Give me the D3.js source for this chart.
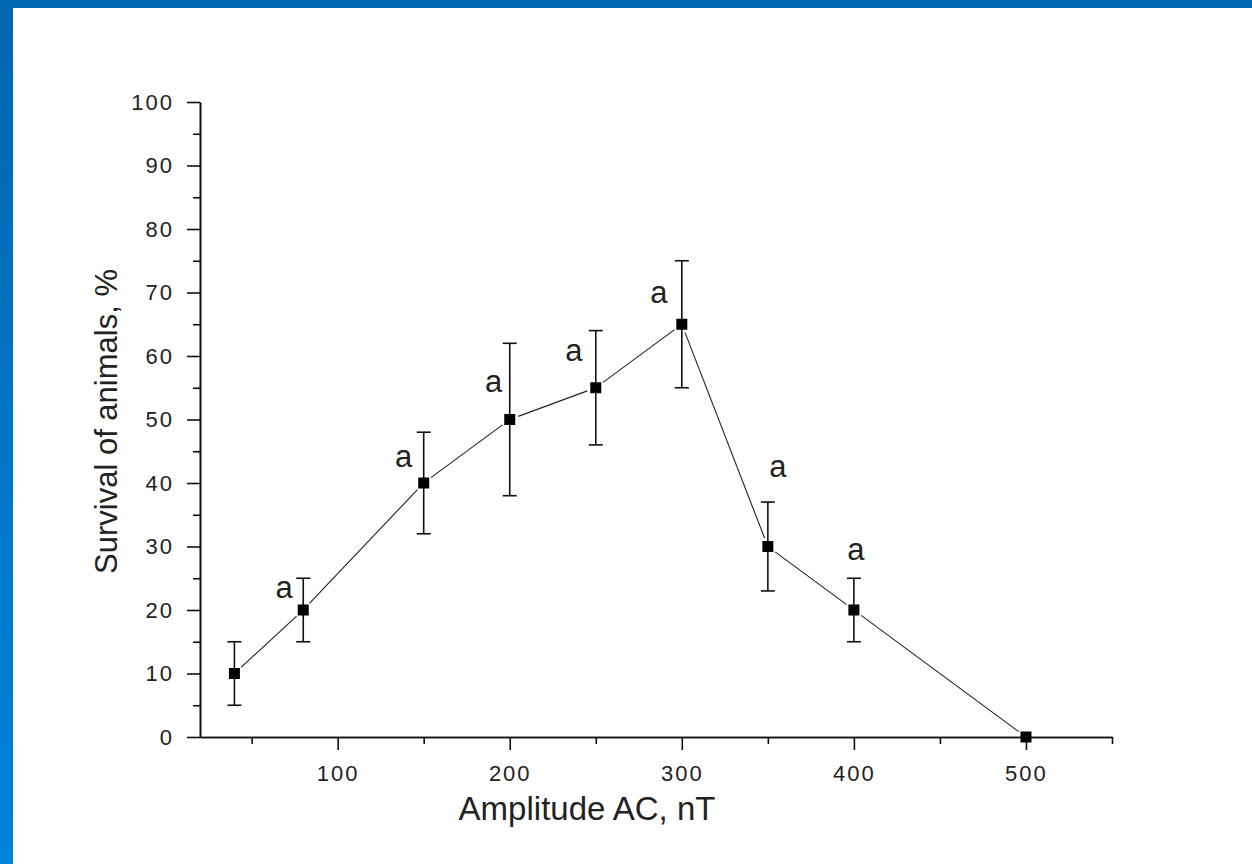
<!DOCTYPE html>
<html>
<head>
<meta charset="utf-8">
<script src="https://cdn.jsdelivr.net/npm/d3@7"></script>
<style>
  html, body { margin: 0; padding: 0; background: #ffffff; }
  svg { display: block; }
</style>
</head>
<body>
<svg id="chart" width="1252" height="864"></svg>
<script>
// Survival of animals versus amplitude of the alternating field
const amplitude = [40, 80, 150, 200, 250, 300, 350, 400, 500];   // nT
const survival  = [10, 20, 40, 50, 55, 65, 30, 20, 0];           // %
const errorHalf = [5, 5, 8, 12, 9, 10, 7, 5, 0];                 // ± %
const significance = ["", "a", "a", "a", "a", "a", "a", "a", ""];

const xMajorTicks = [100, 200, 300, 400, 500];
const xMinorTicks = [50, 150, 250, 350, 450, 550];
const yMajorTicks = [0, 10, 20, 30, 40, 50, 60, 70, 80, 90, 100];
const yMinorTicks = [5, 15, 25, 35, 45, 55, 65, 75, 85, 95];

const xTitle = "Amplitude AC, nT";
const yTitle = "Survival of animals, %";

const W = 1252, H = 864;
const svg = d3.select("#chart");

// ---- slide frame: blue bands on the top and left edges ----
const defs = svg.append("defs");
const grad = defs.append("linearGradient")
  .attr("id", "edgeGrad").attr("x1", 0).attr("y1", 0).attr("x2", 0).attr("y2", 1);
grad.append("stop").attr("offset", "0%").attr("stop-color", "#0066b0");
grad.append("stop").attr("offset", "100%").attr("stop-color", "#0083dc");
svg.append("rect").attr("x", 0).attr("y", 0).attr("width", W).attr("height", H).attr("fill", "#ffffff");
svg.append("rect").attr("x", 0).attr("y", 0).attr("width", 13).attr("height", H).attr("fill", "url(#edgeGrad)");
svg.append("rect").attr("x", 0).attr("y", 0).attr("width", W).attr("height", 8).attr("fill", "#0066b0");

// ---- scales ----
const plot = { left: 200, right: 1112, top: 102, bottom: 737 };
const x = d3.scaleLinear().domain([20, 550]).range([plot.left, plot.right]);
const y = d3.scaleLinear().domain([0, 100]).range([plot.bottom, plot.top]);

const sans = "'Liberation Sans', Arial, Helvetica, sans-serif";

// ---- axes ----
function styleAxis(g) {
  g.selectAll("path.domain").attr("stroke", "#111").attr("stroke-width", 1.6);
  g.selectAll(".tick line").attr("stroke", "#111").attr("stroke-width", 1.6);
}
function styleLabels(g) {
  g.selectAll(".tick text")
    .attr("font-family", sans).attr("font-size", 22).attr("fill", "#222")
    .attr("letter-spacing", 2);
}

const xAxisMinor = svg.append("g").attr("transform", `translate(0,${plot.bottom})`)
  .call(d3.axisBottom(x).tickValues(xMinorTicks).tickSize(7).tickSizeOuter(0).tickFormat(""));
styleAxis(xAxisMinor);

const xAxis = svg.append("g").attr("transform", `translate(0,${plot.bottom})`)
  .call(d3.axisBottom(x).tickValues(xMajorTicks).tickSize(13).tickSizeOuter(0).tickPadding(15)
    .tickFormat(d3.format("d")));
styleAxis(xAxis);
styleLabels(xAxis);

const yAxisMinor = svg.append("g").attr("transform", `translate(${plot.left},0)`)
  .call(d3.axisLeft(y).tickValues(yMinorTicks).tickSize(7).tickSizeOuter(0).tickFormat(""));
styleAxis(yAxisMinor);

const yAxis = svg.append("g").attr("transform", `translate(${plot.left},0)`)
  .call(d3.axisLeft(y).tickValues(yMajorTicks).tickSize(13).tickSizeOuter(0).tickPadding(13)
    .tickFormat(d3.format("d")));
styleAxis(yAxis);
styleLabels(yAxis);

// ---- axis titles ----
svg.append("text")
  .attr("x", 587).attr("y", 820)
  .attr("text-anchor", "middle")
  .attr("font-family", sans).attr("font-size", 33).attr("fill", "#222")
  .text(xTitle);

svg.append("text")
  .attr("transform", `translate(117,${(plot.top + plot.bottom) / 2 + 2}) rotate(-90)`)
  .attr("text-anchor", "middle")
  .attr("font-family", sans).attr("font-size", 31).attr("fill", "#222")
  .text(yTitle);

// ---- data ----
const pts = amplitude.map((a, i) => ({
  a, v: survival[i], e: errorHalf[i], sig: significance[i], i,
  px: x(a), py: y(survival[i])
}));

// connecting line, drawn as segments that stop short of each marker
const gap = 9;
const segs = d3.pairs(pts).map(([p, q]) => {
  const dx = q.px - p.px, dy = q.py - p.py;
  const len = Math.hypot(dx, dy);
  const ux = dx / len, uy = dy / len;
  return { x1: p.px + ux * gap, y1: p.py + uy * gap, x2: q.px - ux * gap, y2: q.py - uy * gap };
});
svg.append("g").selectAll("line").data(segs).join("line")
  .attr("x1", d => d.x1).attr("y1", d => d.y1)
  .attr("x2", d => d.x2).attr("y2", d => d.y2)
  .attr("stroke", "#222").attr("stroke-width", 1.1);

// error bars
const capHalf = 7;
const eb = svg.append("g").attr("stroke", "#111").attr("stroke-width", 1.6);
const withErr = pts.filter(p => p.e > 0);
eb.selectAll("line.stem").data(withErr).join("line").attr("class", "stem")
  .attr("x1", d => d.px).attr("x2", d => d.px)
  .attr("y1", d => y(d.v - d.e)).attr("y2", d => y(d.v + d.e));
eb.selectAll("line.capTop").data(withErr).join("line").attr("class", "capTop")
  .attr("x1", d => d.px - capHalf).attr("x2", d => d.px + capHalf)
  .attr("y1", d => y(d.v + d.e)).attr("y2", d => y(d.v + d.e));
eb.selectAll("line.capBot").data(withErr).join("line").attr("class", "capBot")
  .attr("x1", d => d.px - capHalf).attr("x2", d => d.px + capHalf)
  .attr("y1", d => y(d.v - d.e)).attr("y2", d => y(d.v - d.e));

// square markers
const ms = 11;
svg.append("g").selectAll("rect").data(pts).join("rect")
  .attr("x", d => d.px - ms / 2).attr("y", d => d.py - ms / 2)
  .attr("width", ms).attr("height", ms).attr("fill", "#000");

// significance letters: left of the bar on the rising side, above it on the falling side
const letterPlace = [null, [-19, 20], [-20, 35], [-16, 49], [-22, 30], [-23, 42], [10, -25], [2, -18], null];
svg.append("g").selectAll("text").data(pts.filter(p => p.sig && letterPlace[p.i]))
  .join("text")
  .attr("x", d => d.px + letterPlace[d.i][0])
  .attr("y", d => y(d.v + d.e) + letterPlace[d.i][1])
  .attr("text-anchor", "middle")
  .attr("font-family", sans).attr("font-size", 31).attr("fill", "#222")
  .text(d => d.sig);
</script>
</body>
</html>
